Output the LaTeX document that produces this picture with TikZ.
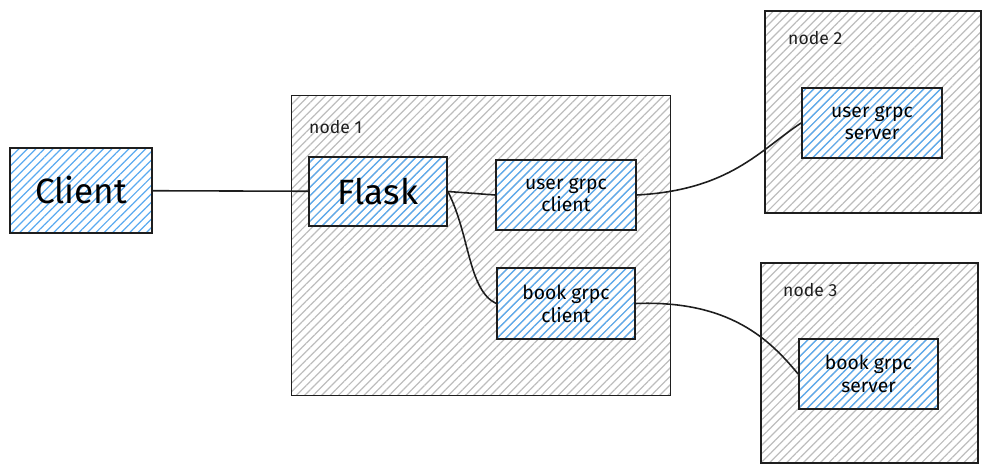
\documentclass[tikz,border=0pt]{standalone}
\usepackage{fontspec}
\setmainfont{Fira Sans}
\usetikzlibrary{patterns.meta}
\definecolor{ink}{HTML}{1E1E1E}
\definecolor{hatchgray}{HTML}{BDBDBD}
\definecolor{hatchblue}{HTML}{5AAAF0}

\begin{document}
\begin{tikzpicture}[x=0.02cm, y=-0.02cm,
      host/.style={draw=ink, line width=1pt, pattern={Lines[angle=45, distance=3.4pt, line width=0.7pt]},
                   pattern color=hatchgray, anchor=north west, inner sep=0pt},
      svc/.style={draw=ink, line width=1pt, pattern={Lines[angle=45, distance=3.4pt, line width=0.7pt]},
                  pattern color=hatchblue, align=center, inner sep=2pt, font=\fontsize{11}{13}\selectfont},
      tag/.style={anchor=west, font=\fontsize{10}{12}\selectfont, text=ink},
      wire/.style={ink, line width=0.9pt}]
    \useasboundingbox (0, 0) rectangle (991, 472);
    % hosts
    \node[host, minimum width=7.58cm, minimum height=6cm] (node1) at (291, 95) {};
    \node[host, minimum width=4.32cm, minimum height=4.04cm] (node2) at (764, 10) {};
    \node[host, minimum width=4.34cm, minimum height=4cm] (node3) at (760, 262) {};
    \node[tag] (l1) at (303, 127) {node 1};
    \node[tag] (l2) at (782, 38) {node 2};
    \node[tag] (l3) at (777, 290) {node 3};
    % services
    \node[svc, minimum width=2.84cm, minimum height=1.7cm, font=\fontsize{20}{24}\selectfont]
      (client) at (81, 190.5) {Client};
    \node[svc, minimum width=2.76cm, minimum height=1.38cm, font=\fontsize{20}{24}\selectfont]
      (flask) at (378, 191.5) {Flask};
    \node[svc, minimum width=2.8cm, minimum height=1.4cm] (ugc) at (566, 195) {user grpc\\client};
    \node[svc, minimum width=2.76cm, minimum height=1.42cm] (bgc) at (566, 303.5) {book grpc\\client};
    \node[svc, minimum width=2.8cm, minimum height=1.4cm] (usrv) at (872, 123) {user grpc\\server};
    \node[svc, minimum width=2.78cm, minimum height=1.4cm] (bsrv) at (868.5, 374) {book grpc\\server};
    % links
    \draw[wire] (client) -- (flask);
    \draw[wire] (flask.east) -- (ugc.west);
    \draw[wire] (flask.east) .. controls (470, 235) and (468, 290) .. (bgc.west);
    \draw[wire] (ugc.east) .. controls (730, 190) and (760, 150) .. (usrv.west);
    \draw[wire] (bgc.east) .. controls (730, 300) and (770, 340) .. (bsrv.west);
  \end{tikzpicture}
\end{document}
